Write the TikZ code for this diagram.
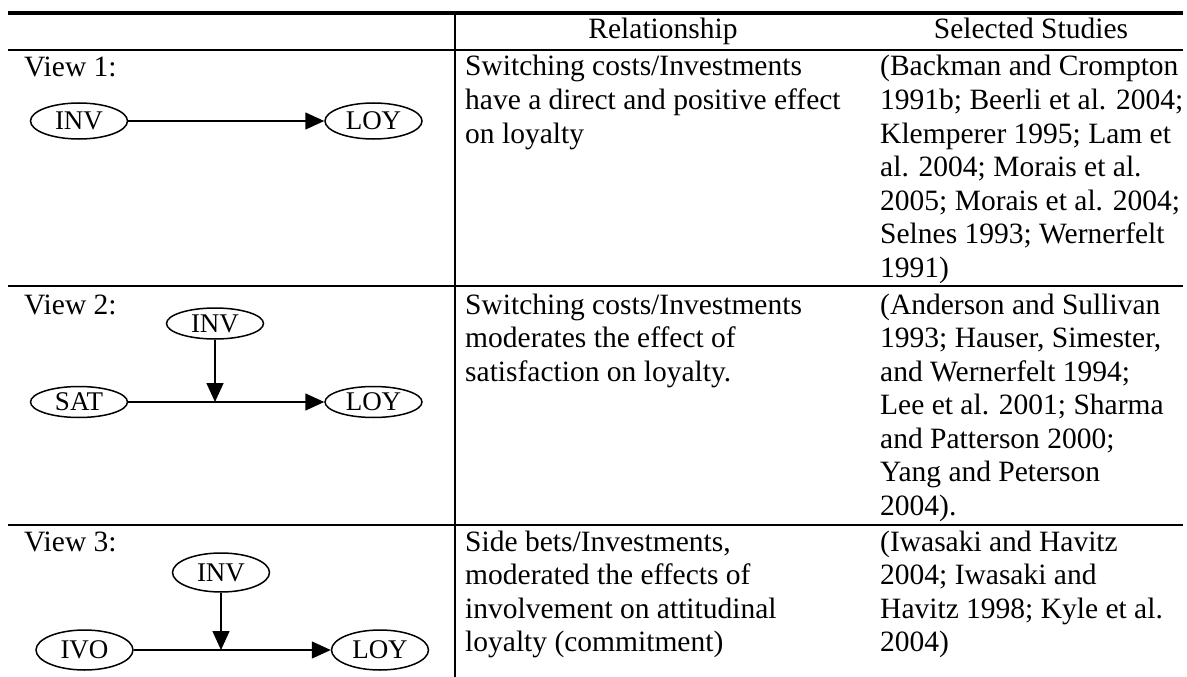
\documentclass[tikz,border=0pt]{standalone}
\usepackage{fontspec}
\setmainfont{Liberation Serif}
\usetikzlibrary{shapes.geometric,arrows.meta}
\tikzset{
  txt/.style={anchor=base west,inner sep=0pt,font=\fontsize{29.5}{33.5}\selectfont},
  hdr/.style={anchor=base,inner sep=0pt,font=\fontsize{29.5}{33.5}\selectfont},
  var/.style={ellipse,draw,line width=1.5pt,inner sep=0pt,minimum width=97pt,font=\fontsize{27}{30}\selectfont},
  rule/.style={line width=1.8pt},
  link/.style={line width=1.5pt,-{Triangle[length=19pt,width=17pt]}}
}
\begin{document}
\begin{tikzpicture}[x=1pt,y=-1pt]
\useasboundingbox (0,0) rectangle (1187,677);
% table rules
\draw[line width=3.3pt] (8,13) -- (1183,13);
\draw[line width=1.6pt] (8,50) -- (1183,50);
\draw[rule] (8,286) -- (1183,286);
\draw[rule] (8,525) -- (1183,525);
\draw[rule] (455,13) -- (455,677);
% header
\node[hdr] (hrel) at (663,39) {Relationship};
\node[hdr] (hsel) at (1031,39) {Selected Studies};
% view labels
\node[txt] (v1) at (24,77) {View 1:};
\node[txt] (v2) at (24,314) {View 2:};
\node[txt] (v3) at (24,551) {View 3:};
% row 1 texts
\foreach \t [count=\i] in {{Switching costs/Investments},{have a direct and positive effect},{on loyalty}}
  \node[txt] (ra\i) at (465,76+33.5*\i-33.5) {\t};
\foreach \t [count=\i] in {{(Backman and Crompton},{1991b; Beerli et al. 2004;},{Klemperer 1995; Lam et},{al. 2004; Morais et al.},{2005; Morais et al. 2004;},{Selnes 1993; Wernerfelt},{1991)}}
  \node[txt] (sa\i) at (880,76+33.5*\i-33.5) {\t};
% row 2 texts
\foreach \t [count=\i] in {{Switching costs/Investments},{moderates the effect of},{satisfaction on loyalty.}}
  \node[txt] (rb\i) at (465,314+33.5*\i-33.5) {\t};
\foreach \t [count=\i] in {{(Anderson and Sullivan},{1993; Hauser, Simester,},{and Wernerfelt 1994;},{Lee et al. 2001; Sharma},{and Patterson 2000;},{Yang and Peterson},{2004).}}
  \node[txt] (sb\i) at (880,314+33.5*\i-33.5) {\t};
% row 3 texts
\foreach \t [count=\i] in {{Side bets/Investments,},{moderated the effects of},{involvement on attitudinal},{loyalty (commitment)}}
  \node[txt] (rc\i) at (465,551+33.5*\i-33.5) {\t};
\foreach \t [count=\i] in {{(Iwasaki and Havitz},{2004; Iwasaki and},{Havitz 1998; Kyle et al.},{2004)}}
  \node[txt] (sc\i) at (880,551+33.5*\i-33.5) {\t};
% view 1 diagram
\node[var,minimum height=36pt] (inv1) at (79,121) {INV};
\node[var,minimum height=36pt] (loy1) at (373.5,121) {LOY};
\draw[link] (inv1) -- (loy1);
% view 2 diagram
\node[var,minimum height=31pt] (inv2) at (215,323.5) {INV};
\node[var,minimum height=31pt] (sat2) at (79,402) {SAT};
\node[var,minimum height=31pt] (loy2) at (373.5,402) {LOY};
\coordinate (j2) at (inv2 |- sat2);
\draw[link] (sat2) -- (loy2);
\draw[link] (inv2) -- (j2);
% view 3 diagram
\node[var,minimum height=39pt] (inv3) at (221,572.5) {INV};
\node[var,minimum height=40pt] (ivo3) at (84.5,650) {IVO};
\node[var,minimum height=40pt] (loy3) at (380,650) {LOY};
\coordinate (j3) at (inv3 |- ivo3);
\draw[link] (ivo3) -- (loy3);
\draw[link] (inv3) -- (j3);
\end{tikzpicture}
\end{document}
